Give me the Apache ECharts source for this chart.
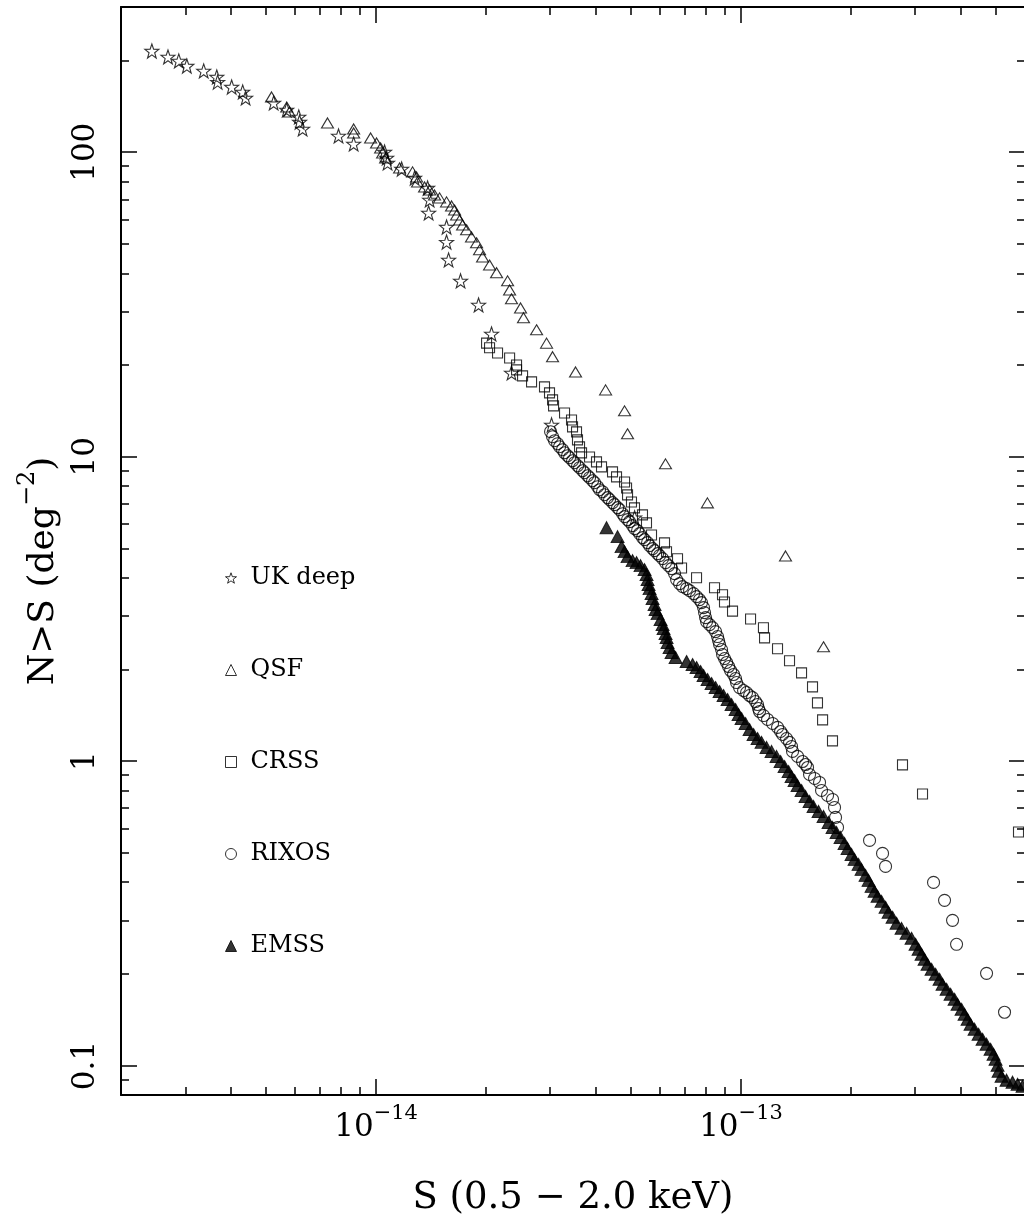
<!DOCTYPE html>
<html>
<head>
<meta charset="utf-8">
<script src="https://cdn.jsdelivr.net/npm/echarts@6/dist/echarts.min.js"></script>
<style>html,body{margin:0;padding:0;background:#fff}#chart{width:1024px;height:1218px}</style>
</head>
<body>
<div id="chart"></div>
<script>
// Flux S given in units of 1e-14 (0.5-2.0 keV); N(>S) in deg^-2
const S_UNIT = 1e-14;

const ukDeepS = [0.243,0.269,0.288,0.303,0.337,0.366,0.368,0.402,0.431,0.439,0.524,0.569,0.614,0.617,0.629,0.789,0.868,1.055,1.069,1.075,1.175,1.275,1.384,1.402,1.393,1.56,1.56,1.58,1.704,1.909,2.072,2.35,3.026,5.11];
const ukDeepN = [215,205.6,199.5,192,185,176.7,170,163.8,157.8,150.8,145.2,137.7,130.6,125.7,119.3,113.1,106.5,100.2,95.8,92.2,88.1,82.3,76.3,69.7,63.2,56.8,50.7,44.3,37.8,31.5,25.3,18.84,12.72,6.3];

const qsfS = [0.517,0.569,0.579,0.736,0.868,0.868,0.966,1.003,1.029,1.042,1.062,1.16,1.259,1.291,1.299,1.358,1.402,1.446,1.493,1.56,1.61,1.641,1.662,1.694,1.726,1.77,1.826,1.885,1.921,1.958,2.046,2.139,2.293,2.322,2.35,2.488,2.535,2.753,2.932,3.045,3.52,4.255,4.796,4.887,6.21,8.09,13.24,16.83];
const qsfN = [151.9,140.8,135.6,124.8,119.3,115.7,111.4,107.3,103.3,99.5,95.8,88.8,86.2,83.0,79.9,76.9,75.2,72.4,70.8,68.7,66.6,64.6,62.2,59.9,57.7,55.6,52.7,50.4,47.8,45.3,42.6,40.2,37.8,35.3,33.0,30.8,28.6,26.1,23.6,21.3,18.98,16.57,14.14,11.89,9.47,7.05,4.72,2.373];

const crssS = [2.008,2.046,2.152,2.322,2.426,2.426,2.52,2.667,2.894,2.987,3.045,3.064,3.284,3.432,3.454,3.542,3.564,3.61,3.656,3.845,4.018,4.147,4.445,4.559,4.796,4.857,4.887,5.01,5.106,5.37,5.508,5.685,6.171,6.25,6.699,6.871,7.553,8.46,8.898,9.01,9.478,10.62,11.52,11.6,12.59,13.58,14.65,15.7,16.2,16.73,17.81,27.7,31.43,57.59];
const crssN = [23.6,22.8,21.9,21.1,20.0,19.28,18.42,17.6,16.95,16.2,15.37,14.68,13.92,13.2,12.53,12.06,11.35,10.77,10.29,9.98,9.61,9.26,8.91,8.58,8.26,7.89,7.49,7.1,6.79,6.44,6.06,5.53,5.21,4.87,4.62,4.31,4.0,3.71,3.52,3.33,3.11,2.93,2.74,2.54,2.34,2.135,1.949,1.753,1.553,1.366,1.165,0.972,0.78,0.585];

const rixosS = [3.007,3.045,3.084,3.143,3.182,3.243,3.284,3.347,3.390,3.455,
3.499,3.566,3.611,3.680,3.727,3.798,3.846,3.919,3.969,4.045,
4.096,4.174,4.227,4.308,4.363,4.446,4.503,4.589,4.647,4.736,
4.796,4.888,4.950,5.045,5.109,5.206,5.272,5.373,5.441,5.545,
5.616,5.723,5.796,5.907,5.981,6.095,6.212,6.331,6.452,6.575,
6.659,6.786,6.916,7.093,7.228,7.413,7.555,7.698,7.796,7.895,
7.945,7.995,8.046,8.200,8.357,8.517,8.625,8.680,8.734,8.845,
8.901,9.014,9.129,9.245,9.361,9.540,9.661,9.723,9.908,10.161,
10.356,10.553,10.755,10.960,11.100,11.170,11.240,11.527,11.822,12.201,
12.592,12.833,12.996,13.328,13.582,13.755,13.841,14.286,14.743,15.025,
15.216,15.409,15.903,16.412,16.621,17.262,17.815,18.041,18.156,18.386,
22.500,24.423,24.890,33.693,36.115,37.985,38.958,47.076,52.734];
const rixosN = [12.08,11.63,11.28,11.03,10.78,10.54,10.30,10.07,9.921,9.698,
9.553,9.339,9.198,8.993,8.858,8.659,8.529,8.338,8.213,7.968,
7.790,7.673,7.501,7.333,7.223,7.061,6.955,6.799,6.697,6.497,
6.352,6.210,6.117,5.935,5.801,5.715,5.586,5.420,5.339,5.219,
5.102,4.988,4.913,4.802,4.730,4.624,4.487,4.386,4.288,4.129,
3.946,3.828,3.743,3.686,3.631,3.550,3.470,3.392,3.316,3.193,
3.074,2.960,2.872,2.808,2.745,2.663,2.565,2.488,2.414,2.325,
2.239,2.172,2.108,2.045,1.984,1.925,1.867,1.811,1.744,1.705,
1.679,1.642,1.617,1.569,1.534,1.488,1.455,1.411,1.370,1.329,
1.290,1.251,1.223,1.186,1.152,1.117,1.076,1.036,0.9968,0.9745,
0.9526,0.9038,0.8768,0.8508,0.8008,0.7711,0.7482,0.7043,0.6530,0.6054,
0.5488,0.4974,0.4509,0.3995,0.3487,0.2998,0.2501,0.2008,0.1496];

const emssS = [4.281,4.589,4.706,4.796,4.888,5.045,5.174,5.305,5.441,5.510,
5.545,5.580,5.616,5.687,5.723,5.796,5.833,5.907,6.019,6.095,
6.134,6.212,6.251,6.291,6.371,6.452,6.617,7.093,7.366,7.555,
7.747,7.895,8.097,8.304,8.517,8.734,8.957,9.186,9.420,9.661,
9.846,10.034,10.290,10.553,10.823,11.100,11.383,11.748,12.124,12.513,
12.833,13.161,13.498,13.755,14.017,14.286,14.651,15.025,15.409,15.803,
16.310,16.831,17.372,17.815,18.271,18.738,19.217,19.585,20.084,20.467,
20.992,21.392,21.940,22.360,22.786,23.221,23.666,24.270,24.890,25.367,
26.014,26.680,27.534,28.417,29.327,30.077,30.653,31.237,31.833,32.443,
33.272,34.122,34.994,35.662,36.576,37.509,38.467,39.204,40.205,40.972,
41.757,42.554,43.641,44.760,45.900,47.076,48.277,49.199,49.825,50.458,
50.779,51.746,53.407,55.465,57.244,59.076];
const emssN = [5.845,5.461,5.064,4.876,4.695,4.555,4.487,4.386,4.256,4.098,
3.946,3.800,3.686,3.550,3.418,3.266,3.145,3.051,2.916,2.808,
2.724,2.623,2.545,2.451,2.360,2.273,2.188,2.124,2.076,2.029,
1.969,1.910,1.853,1.798,1.744,1.692,1.642,1.593,1.534,1.477,
1.422,1.380,1.329,1.270,1.223,1.186,1.152,1.109,1.076,1.036,
0.9968,0.9598,0.9245,0.8902,0.8637,0.8317,0.8008,0.7653,0.7370,0.7096,
0.6833,0.6579,0.6288,0.6054,0.5830,0.5614,0.5365,0.5166,0.4937,0.4754,
0.4578,0.4408,0.4212,0.4056,0.3876,0.3733,0.3595,0.3461,0.3308,0.3185,
0.3067,0.2931,0.2822,0.2718,0.2617,0.2501,0.2408,0.2319,0.2233,0.2150,
0.2070,0.1993,0.1920,0.1849,0.1780,0.1714,0.1650,0.1589,0.1530,0.1473,
0.1419,0.1366,0.1316,0.1267,0.1220,0.1175,0.1131,0.1089,0.1049,0.1002,
0.09578,0.09223,0.08948,0.08814,0.08681,0.08551];

const seriesNames = ['UK deep','QSF','CRSS','RIXOS','EMSS'];

// axis ranges and ticks
const X_MIN = 2e-15, X_MAX = 6e-13;
const Y_MIN = 0.08, Y_MAX = 300;
const xMajorTicks = [1e-14, 1e-13];
const xMinorTicks = [3e-15,4e-15,5e-15,6e-15,7e-15,8e-15,9e-15,2e-14,3e-14,4e-14,5e-14,6e-14,7e-14,8e-14,9e-14,2e-13,3e-13,4e-13,5e-13];
const yMajorTicks = [0.1, 1, 10, 100];
const yTickLabels = ['0.1', '1', '10', '100'];
const yMinorTicks = [0.09,0.2,0.3,0.4,0.5,0.6,0.7,0.8,0.9,2,3,4,5,6,7,8,9,20,30,40,50,60,70,80,90,200];
const xTitle = 'S (0.5 \u2212 2.0 keV)';
const yTitle = '{a|N>S (deg}{s|\u22122}{a|)}';

const FONT = 'DejaVu Serif';
const lg = Math.log10;
const STAR = 'path://M50 0 L61.76 33.82 L97.55 34.55 L69.02 56.18 L79.39 90.45 L50 70 L20.61 90.45 L30.98 56.18 L2.45 34.55 L38.24 33.82 Z';

function pairs(S, N) { return S.map((s, i) => [s * S_UNIT, N[i]]); }

const tickLine = {color: '#000', width: 1.5};
const spine = {show: true, onZero: false, lineStyle: {color: '#000', width: 2}};
const MAJ = 16, MIN = 8;

function tickAxis(dim, position, ticks, len, extra) {
  const isX = dim === 'x';
  const base = {
    type: 'value', position: position, gridIndex: 0,
    min: isX ? lg(X_MIN) : lg(Y_MIN), max: isX ? lg(X_MAX) : lg(Y_MAX),
    splitLine: {show: false}, silent: true,
    axisLine: {show: false, onZero: false},
    axisTick: {show: true, inside: true, length: len, lineStyle: tickLine, customValues: ticks.map(lg)},
    axisLabel: {show: false}
  };
  return Object.assign(base, extra || {});
}

const chart = echarts.init(document.getElementById('chart'), null, {renderer: 'canvas', width: 1024, height: 1218});

const tickRich = {
  b: {fontFamily: FONT, fontSize: 31, lineHeight: 40, verticalAlign: 'bottom', color: '#000'},
  s: {fontFamily: FONT, fontSize: 21, lineHeight: 21, verticalAlign: 'top', color: '#000'}
};
const titleRich = {
  a: {fontFamily: FONT, fontSize: 36, lineHeight: 46, verticalAlign: 'bottom', color: '#000'},
  s: {fontFamily: FONT, fontSize: 24, lineHeight: 24, verticalAlign: 'top', color: '#000'}
};

const option = {
  animation: false,
  backgroundColor: '#fff',
  grid: {left: 121, top: 7, width: 904, height: 1088, containLabel: false, outerBoundsMode: 'none'},
  legend: {
    orient: 'vertical', left: 225, top: 566, padding: 0,
    itemGap: 68, itemWidth: 11, itemHeight: 11,
    selectedMode: false,
    textStyle: {fontFamily: FONT, fontSize: 24, lineHeight: 24, color: '#000', padding: [0, 0, 0, 9]},
    itemStyle: {borderColor: '#000', borderWidth: 1},
    data: seriesNames
  },
  xAxis: [
    {type: 'log', logBase: 10, min: X_MIN, max: X_MAX, show: false, gridIndex: 0},
    tickAxis('x', 'bottom', xMajorTicks, MAJ, {
      axisLine: spine,
      axisLabel: {
        show: true, customValues: xMajorTicks.map(lg), margin: 8,
        formatter: v => { const e = Math.round(v); return '{b|10}{s|' + (e < 0 ? '\u2212' : '') + Math.abs(e) + '}'; },
        rich: tickRich
      },
      name: xTitle, nameLocation: 'middle', nameGap: 83,
      nameTextStyle: {fontFamily: FONT, fontSize: 37, lineHeight: 40, color: '#000'}
    }),
    tickAxis('x', 'bottom', xMinorTicks, MIN),
    tickAxis('x', 'top', xMajorTicks, MAJ, {axisLine: spine}),
    tickAxis('x', 'top', xMinorTicks, MIN)
  ],
  yAxis: [
    {type: 'log', logBase: 10, min: Y_MIN, max: Y_MAX, show: false, gridIndex: 0},
    tickAxis('y', 'left', yMajorTicks, MAJ, {
      axisLine: spine,
      axisLabel: {
        show: true, customValues: yMajorTicks.map(lg), rotate: 90, margin: 20,
        fontFamily: FONT, fontSize: 31, lineHeight: 31, color: '#000',
        formatter: v => yTickLabels[yMajorTicks.findIndex(t => Math.abs(lg(t) - v) < 1e-6)]
      },
      name: yTitle, nameLocation: 'middle', nameGap: 55,
      nameTextStyle: {fontFamily: FONT, fontSize: 36, color: '#000', padding: [0, 40, 0, 0], rich: titleRich}
    }),
    tickAxis('y', 'left', yMinorTicks, MIN),
    tickAxis('y', 'right', yMajorTicks, MAJ),
    tickAxis('y', 'right', yMinorTicks, MIN)
  ],
  series: [
    {name: 'UK deep', type: 'scatter', xAxisIndex: 0, yAxisIndex: 0, symbol: STAR, symbolSize: 14, silent: true,
     itemStyle: {color: 'transparent', borderColor: '#000', borderWidth: 1.1}, data: pairs(ukDeepS, ukDeepN)},
    {name: 'QSF', type: 'scatter', xAxisIndex: 0, yAxisIndex: 0, symbol: 'triangle', symbolSize: [12, 10], silent: true,
     itemStyle: {color: 'transparent', borderColor: '#000', borderWidth: 1.1}, data: pairs(qsfS, qsfN)},
    {name: 'CRSS', type: 'scatter', xAxisIndex: 0, yAxisIndex: 0, symbol: 'rect', symbolSize: 10, silent: true,
     itemStyle: {color: 'transparent', borderColor: '#000', borderWidth: 1.1}, data: pairs(crssS, crssN)},
    {name: 'RIXOS', type: 'scatter', xAxisIndex: 0, yAxisIndex: 0, symbol: 'circle', symbolSize: 12, silent: true,
     itemStyle: {color: 'transparent', borderColor: '#000', borderWidth: 1.1}, data: pairs(rixosS, rixosN)},
    {name: 'EMSS', type: 'scatter', xAxisIndex: 0, yAxisIndex: 0, symbol: 'triangle', symbolSize: [13, 12], silent: true,
     itemStyle: {color: '#000', borderColor: '#000', borderWidth: 1}, data: pairs(emssS, emssN)}
  ]
};
chart.setOption(option);
</script>
</body>
</html>
